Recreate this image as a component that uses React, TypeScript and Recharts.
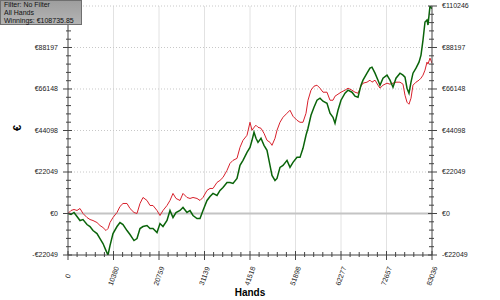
import React from "react";
import { LineChart, Line, XAxis, YAxis, ReferenceLine } from "recharts";

// hands played (x)
const hands = [
  0, 684, 1369, 2053, 2737, 3422, 4334, 5019, 5703, 6615, 7300, 7984, 8669, 9125, 9581, 10265,
  11178, 11862, 12547, 13459, 14143, 15056, 15740, 16425, 17109, 18021, 18706, 19390, 20303,
  20987, 21671, 22584, 23268, 23952, 24637, 25549, 26234, 27146, 27831, 28515, 29427, 30112,
  30796, 31709, 32393, 33077, 33990, 34674, 35359, 36271, 36955, 37640, 38552, 39237, 39921,
  40833, 41518, 41974, 42430, 42887, 43343, 44027, 44712, 45396, 46080, 46536, 47221, 47677,
  48361, 49046, 49958, 50643, 51327, 52239, 52924, 53608, 54293, 54749, 55433, 56118, 56802,
  57486, 58171, 59083, 59767, 60452, 60908, 61592, 62277, 63189, 63874, 64786, 65470, 66155,
  66839, 67295, 68208, 68892, 69348, 70033, 70717, 71173, 71858, 72770, 73455, 74139, 74823,
  75736, 76420, 76876, 77333, 77789, 78245, 78701, 79386, 80070, 80526, 80982, 81439, 81895,
  82123, 82579, 83036,
];

// net won (green)
const winnings = [
  0, -533, 533, -1598, -3728, -3196, -5859, -6924, -9054, -10652, -13315, -15978, -19706, -22049,
  -17043, -10652, -6924, -4794, -5859, -9054, -11185, -14380, -13315, -7989, -6924, -6391, -7989,
  -7989, -10119, -5326, -6924, -3728, 1598, -2130, 533, 1598, 3196, 533, 1598, -1065, -2663,
  -2663, 1598, 6924, 9054, 10652, 9587, 12250, 13848, 16511, 16511, 15978, 18641, 25565, 28228,
  32489, 35152, 38880, 43141, 39945, 37815, 39945, 36217, 33554, 25565, 20239, 17576, 18641,
  24500, 25565, 28228, 24500, 27163, 29826, 29826, 34619, 41543, 45271, 52195, 56456, 60184,
  61249, 59651, 58586, 53260, 51130, 47934, 54858, 60184, 63912, 65510, 64445, 62314, 61782,
  68173, 70836, 74564, 77227, 77760, 74564, 70836, 68173, 71901, 73499, 70836, 67108, 71901,
  74564, 73499, 72434, 66575, 63912, 69771, 74564, 77227, 80423, 84151, 92140, 101727, 102792,
  100129, 110246, 108736,
];

// all-in EV (red)
const evWinnings = [
  0, 1598, 2130, 1598, 2663, 0, -2130, -3196, -3728, -4793, -6391, -7456, -9054, -7989, -4793,
  -2130, 533, 3728, 5326, 5326, 2663, 533, 0, 5326, 8522, 6924, 4261, 4261, 1598, -1065, 1598,
  4261, 6924, 10652, 7989, 6924, 10652, 8522, 7989, 8522, 7989, 6924, 8522, 12250, 13315, 13315,
  16511, 17576, 19174, 22902, 26630, 28228, 29293, 35152, 38880, 41543, 48467, 44206, 45804,
  46869, 45804, 45271, 42608, 38880, 37815, 36217, 39945, 44206, 48467, 51130, 53260, 54858,
  51662, 49532, 48467, 48467, 53260, 60184, 65510, 67640, 68173, 66575, 64445, 64445, 60184,
  60184, 62314, 63379, 64445, 65510, 66575, 65510, 64445, 63912, 67640, 69238, 69771, 70836,
  69771, 70836, 68173, 66575, 68173, 69238, 68706, 69238, 69771, 69771, 68706, 62847, 59119,
  58054, 61249, 68173, 69771, 70836, 71901, 73499, 76162, 80423, 79358, 82553, 79890,
];

const handTicks = [0, 10380, 20759, 31139, 41518, 51898, 62277, 72657, 83036];
const euroTicks = [-22049, 0, 22049, 44098, 66148, 88197, 110246];

const data = hands.map((h, i) => ({ hands: h, won: winnings[i], ev: evWinnings[i] }));

// major ticks plus 4 minor ticks between each pair
function withMinor(major: number[]) {
  const out: number[] = [];
  major.forEach((v, i) => {
    out.push(v);
    const next = major[i + 1];
    if (next === undefined) return;
    for (let k = 1; k < 5; k++) out.push(v + ((next - v) * k) / 5);
  });
  return out;
}

const AXIS = "#444";
const LABEL = "#222";
const FONT = "'Liberation Sans', Arial, sans-serif";

const euro = (v: number) => (v < 0 ? `-€${Math.abs(v)}` : `€${v}`);

const LeftTick = ({ x, y, payload }: any) => {
  if (!euroTicks.includes(payload.value))
    return <line x1={x - 2} x2={x + 3} y1={y} y2={y} stroke={AXIS} />;
  return (
    <g>
      <line x1={x - 5} x2={x + 4} y1={y} y2={y} stroke={AXIS} />
      <text x={x - 10} y={y} dy="0.35em" textAnchor="end" fontSize={7} fill={LABEL} fontFamily={FONT}>
        {euro(payload.value)}
      </text>
    </g>
  );
};

const RightTick = ({ x, y, payload }: any) => {
  if (!euroTicks.includes(payload.value))
    return <line x1={x - 3} x2={x + 2} y1={y} y2={y} stroke={AXIS} />;
  return (
    <g>
      <line x1={x - 4} x2={x + 5} y1={y} y2={y} stroke={AXIS} />
      <text x={x + 10} y={y} dy="0.35em" textAnchor="start" fontSize={7} fill={LABEL} fontFamily={FONT}>
        {euro(payload.value)}
      </text>
    </g>
  );
};

const BottomTick = ({ x, y, payload }: any) => {
  if (!handTicks.includes(payload.value))
    return <line x1={x} x2={x} y1={y - 3} y2={y + 2} stroke={AXIS} />;
  const cy = y + 21;
  return (
    <g>
      <line x1={x} x2={x} y1={y - 4} y2={y + 5} stroke={AXIS} />
      <text
        x={x}
        y={cy}
        dy="0.35em"
        textAnchor="middle"
        fontSize={7}
        fill={LABEL}
        fontFamily={FONT}
        transform={`rotate(-70, ${x}, ${cy})`}
      >
        {payload.value}
      </text>
    </g>
  );
};

const TopTick = ({ x, y }: any) => <line x1={x} x2={x} y1={y - 1} y2={y + 3} stroke={AXIS} />;

export default function App() {
  const minorHands = withMinor(handTicks);
  const minorEuro = withMinor(euroTicks);
  return (
    <div style={{ position: "absolute", left: 0, top: 0, width: 500, height: 300, background: "#fff" }}>
      <LineChart width={500} height={300} data={data} margin={{ top: 6, right: 0, bottom: 0, left: 0 }}>
        <XAxis
          dataKey="hands"
          type="number"
          domain={[0, 83036]}
          allowDataOverflow
          ticks={minorHands}
          interval={0}
          height={45}
          tickSize={0}
          tickMargin={0}
          tick={<BottomTick />}
          axisLine={{ stroke: AXIS }}
          tickLine={false}
        />
        <XAxis
          xAxisId="top"
          orientation="top"
          dataKey="hands"
          type="number"
          domain={[0, 83036]}
          allowDataOverflow
          ticks={minorHands}
          interval={0}
          height={0}
          tickSize={0}
          tickMargin={0}
          tick={<TopTick />}
          axisLine={{ stroke: "#888" }}
          tickLine={false}
        />
        <YAxis
          type="number"
          domain={[-22049, 110246]}
          allowDataOverflow
          ticks={minorEuro}
          interval={0}
          width={68}
          tickSize={0}
          tickMargin={0}
          tick={<LeftTick />}
          axisLine={{ stroke: AXIS }}
          tickLine={false}
        />
        <YAxis
          yAxisId="right"
          orientation="right"
          type="number"
          domain={[-22049, 110246]}
          allowDataOverflow
          ticks={minorEuro}
          interval={0}
          width={68}
          tickSize={0}
          tickMargin={0}
          tick={<RightTick />}
          axisLine={{ stroke: AXIS }}
          tickLine={false}
        />
        {handTicks.slice(1, -1).map((v) => (
          <ReferenceLine key={`vx${v}`} x={v} stroke="#e2e2e2" />
        ))}
        {euroTicks
          .filter((v) => v !== 0 && v !== euroTicks[0])
          .map((v) => (
            <ReferenceLine key={`hy${v}`} y={v} stroke="#c8c8c8" strokeDasharray="1 2" />
          ))}
        <ReferenceLine y={0} stroke="#c4c4c4" strokeWidth={2} />
        <Line
          type="linear"
          dataKey="ev"
          stroke="#d8212c"
          strokeWidth={1}
          dot={false}
          isAnimationActive={false}
        />
        <Line
          type="linear"
          dataKey="won"
          stroke="#0a640a"
          strokeWidth={1.5}
          dot={false}
          isAnimationActive={false}
        />
      </LineChart>

      <div
        style={{
          position: "absolute",
          left: 0,
          top: 0,
          width: 82,
          height: 25,
          boxSizing: "border-box",
          padding: "0 0 0 3px",
          background: "linear-gradient(#9e9e9e, #b4b4b4)",
          border: "1px solid #6f6f6f",
          fontFamily: FONT,
          fontSize: 7,
          lineHeight: "7.8px",
          color: "#111",
          whiteSpace: "nowrap",
        }}
      >
        <div>Filter: No Filter</div>
        <div>All Hands</div>
        <div>Winnings: €108735.85</div>
      </div>

      <div
        style={{
          position: "absolute",
          left: 14,
          top: 122,
          fontFamily: FONT,
          fontWeight: "bold",
          fontSize: 11,
          transform: "rotate(-90deg)",
          color: "#000",
        }}
      >
        €
      </div>
      <div
        style={{
          position: "absolute",
          left: 0,
          width: 500,
          top: 287,
          textAlign: "center",
          fontFamily: FONT,
          fontWeight: "bold",
          fontSize: 10,
          color: "#000",
        }}
      >
        Hands
      </div>
    </div>
  );
}
